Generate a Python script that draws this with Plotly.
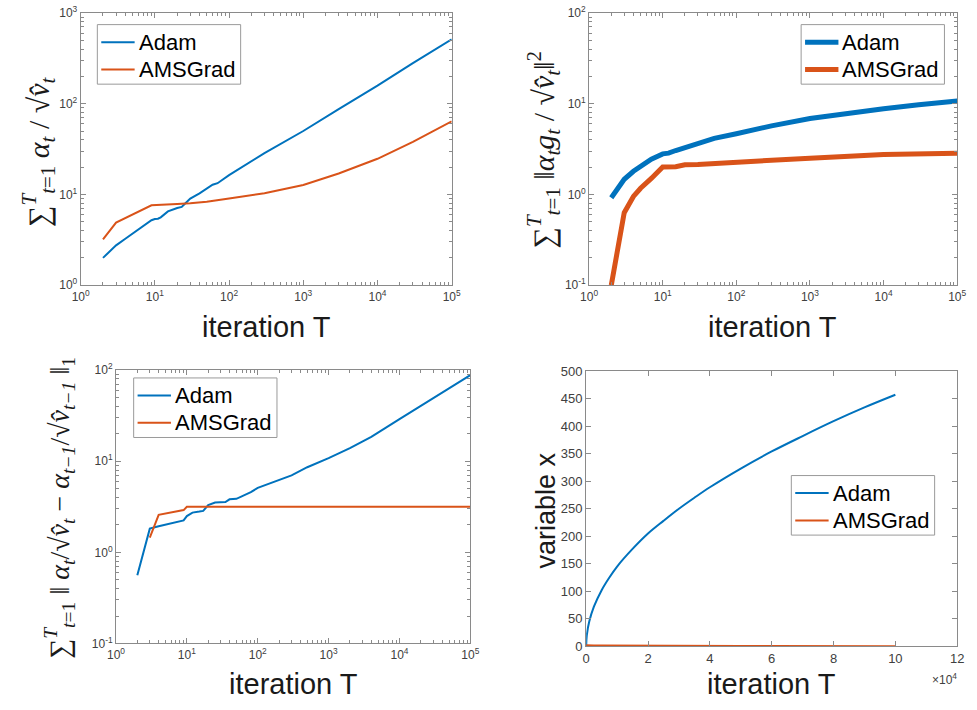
import plotly.graph_objects as go

W, H = 977, 710
BLUE = "#0072BD"
ORANGE = "#D95319"

# ---------------- data ----------------
# Panel 1: sum alpha_t / sqrt(v_t)
p1_T_adam = [2, 3, 4, 5, 7, 9, 10, 11, 12, 15, 20, 23, 25, 30, 40, 50, 60, 70, 100, 300, 1000, 3000, 10000, 30000, 100000]
p1_adam = [2.0, 2.75, 3.25, 3.7, 4.5, 5.2, 5.35, 5.4, 5.6, 6.5, 7.1, 7.3, 7.8, 9.0, 10.3, 11.6, 12.8, 13.3, 16.3, 28.5, 50, 87, 158, 280, 512]
p1_T_ams = [2, 3, 9, 10, 20, 30, 50, 100, 300, 1000, 3000, 10000, 30000, 100000]
p1_ams = [3.2, 4.9, 7.6, 7.65, 7.85, 8.0, 8.3, 9.0, 10.3, 12.7, 17.0, 24.7, 37.9, 64]

# Panel 2: sum ||alpha_t g_t / sqrt(v_t)||^2
p2_T_adam = [2, 3, 4, 5, 7, 10, 12, 15, 20, 30, 50, 100, 300, 1000, 3000, 10000, 30000, 100000]
p2_adam = [0.92, 1.47, 1.8, 2.05, 2.45, 2.8, 2.85, 3.05, 3.3, 3.7, 4.15, 4.66, 5.7, 6.88, 7.85, 8.81, 9.73, 10.7]
p2_T_ams = [2, 3, 4, 5, 7, 10, 15, 20, 30, 100, 1000, 10000, 100000]
p2_ams = [0.1, 0.63, 0.95, 1.17, 1.5, 2.01, 2.02, 2.12, 2.14, 2.27, 2.51, 2.75, 2.84]

# Panel 3: sum || alpha_t/sqrt(v_t) - alpha_{t-1}/sqrt(v_{t-1}) ||_1
p3_T_adam = [2, 3, 4, 9, 10, 12, 15, 17, 20, 25, 35, 40, 50, 60, 80, 100, 200, 300, 500, 1000, 2000, 4000, 10000, 30000, 100000]
p3_adam = [0.56, 1.82, 1.93, 2.24, 2.5, 2.73, 2.8, 2.85, 3.3, 3.52, 3.57, 3.82, 3.87, 4.1, 4.58, 5.1, 6.2, 7.0, 8.6, 10.8, 13.9, 18.5, 29, 49, 88]
p3_T_ams = [3, 4, 9, 10, 100, 1000, 10000, 100000]
p3_ams = [1.45, 2.58, 2.91, 3.16, 3.16, 3.16, 3.16, 3.16]

# Panel 4: variable x
p4_T = [0, 200, 1000, 2500, 5000, 7500, 10000, 15000, 20000, 25000, 30000, 35000, 40000, 50000, 60000, 70000, 80000, 90000, 100000]
p4_adam = [0, 20, 45, 72, 102, 125, 145, 177, 205, 228, 250, 270, 289, 323, 354, 382, 409, 434, 457]
p4_ams = [2.0, 1.9, 1.8, 1.6, 1.5, 1.4, 1.3, 1.1, 1.0, 0.9, 0.8, 0.75, 0.7, 0.6, 0.55, 0.5, 0.45, 0.42, 0.4]

series_names = ["Adam", "AMSGrad"]

# tick labels
log_x_vals = [1, 10, 100, 1000, 10000, 100000]
log_x_text = ["10<sup>0</sup>", "10<sup>1</sup>", "10<sup>2</sup>", "10<sup>3</sup>", "10<sup>4</sup>", "10<sup>5</sup>"]
p1_y_vals = [1, 10, 100, 1000]
p1_y_text = ["10<sup>0</sup>", "10<sup>1</sup>", "10<sup>2</sup>", "10<sup>3</sup>"]
p23_y_vals = [0.1, 1, 10, 100]
p23_y_text = ["10<sup>-1</sup>", "10<sup>0</sup>", "10<sup>1</sup>", "10<sup>2</sup>"]
p4_x_vals = [0, 20000, 40000, 60000, 80000, 100000, 120000]
p4_x_text = ["0", "2", "4", "6", "8", "10", "12"]
p4_y_vals = [0, 50, 100, 150, 200, 250, 300, 350, 400, 450, 500]

# ---------------- helpers ----------------
AX_COL = "#8a8a8a"
TICK_FONT = dict(family="Liberation Sans, Arial, sans-serif", size=12, color="#404040")
TICK_FONT4 = dict(family="Liberation Sans, Arial, sans-serif", size=13, color="#404040")


def minor_vals(lo, hi):
    out = []
    for e in range(lo, hi):
        for m in range(2, 10):
            out.append(m * 10 ** e)
    return out


def px_x(a, b):
    return [a / W, b / W]


def px_y(top, bottom):
    return [1 - bottom / H, 1 - top / H]


def log_axis(domain, rng, vals, text, anchor, mlo, mhi):
    return dict(
        type="log", domain=domain, range=rng, anchor=anchor,
        tickmode="array", tickvals=vals, ticktext=text,
        ticks="inside", ticklen=5, tickcolor=AX_COL, tickwidth=1,
        showline=True, linecolor=AX_COL, linewidth=1, mirror="allticks",
        showgrid=False, zeroline=False, tickfont=TICK_FONT,
        minor=dict(tickmode="array", tickvals=minor_vals(mlo, mhi), ticks="inside",
                   ticklen=3, tickcolor=AX_COL, showgrid=False),
    )


def lin_axis(domain, rng, vals, text, anchor):
    d = dict(
        type="linear", domain=domain, range=rng, anchor=anchor,
        tickmode="array", tickvals=vals,
        ticks="inside", ticklen=5, tickcolor=AX_COL, tickwidth=1,
        showline=True, linecolor=AX_COL, linewidth=1, mirror="allticks",
        showgrid=False, zeroline=False, tickfont=TICK_FONT4,
    )
    if text is not None:
        d["ticktext"] = text
    return d


fig = go.Figure()

panels = [
    ("x", "y", p1_T_adam, p1_adam, p1_T_ams, p1_ams, 2),
    ("x2", "y2", p2_T_adam, p2_adam, p2_T_ams, p2_ams, 5),
    ("x3", "y3", p3_T_adam, p3_adam, p3_T_ams, p3_ams, 2),
]
for xa, ya, ta, va, tm, vm, lw in panels:
    fig.add_trace(go.Scatter(x=ta, y=va, mode="lines", name=series_names[0],
                             line=dict(color=BLUE, width=lw), xaxis=xa, yaxis=ya, showlegend=False))
    fig.add_trace(go.Scatter(x=tm, y=vm, mode="lines", name=series_names[1],
                             line=dict(color=ORANGE, width=lw), xaxis=xa, yaxis=ya, showlegend=False))
fig.add_trace(go.Scatter(x=p4_T, y=p4_adam, mode="lines", name=series_names[0], line_shape="spline",
                         line=dict(color=BLUE, width=2), xaxis="x4", yaxis="y4", showlegend=False))
fig.add_trace(go.Scatter(x=p4_T, y=p4_ams, mode="lines", name=series_names[1],
                         line=dict(color=ORANGE, width=2), xaxis="x4", yaxis="y4", showlegend=False))

D1x, D1y = px_x(73, 451), px_y(4, 283)
D2x, D2y = px_x(591, 966), px_y(4, 283)
D3x, D3y = px_x(109, 470), px_y(370, 650)
D4x, D4y = px_x(588, 966), px_y(371, 653)

fig.update_layout(
    width=W, height=H, margin=dict(l=0, r=0, t=0, b=0),
    paper_bgcolor="white", plot_bgcolor="white", showlegend=False,
    xaxis=log_axis(D1x, [0, 5], log_x_vals, log_x_text, "y", 0, 5),
    yaxis=log_axis(D1y, [0, 3], p1_y_vals, p1_y_text, "x", 0, 3),
    xaxis2=log_axis(D2x, [0, 5], log_x_vals, log_x_text, "y2", 0, 5),
    yaxis2=log_axis(D2y, [-1, 2], p23_y_vals, p23_y_text, "x2", -1, 2),
    xaxis3=log_axis(D3x, [0, 5], log_x_vals, log_x_text, "y3", 0, 5),
    yaxis3=log_axis(D3y, [-1, 2], p23_y_vals, p23_y_text, "x3", -1, 2),
    xaxis4=lin_axis(D4x, [0, 120000], p4_x_vals, p4_x_text, "y4"),
    yaxis4=lin_axis(D4y, [0, 500], p4_y_vals, None, "x4"),
)

LEG_FONT = dict(family="Liberation Sans, Arial, sans-serif", size=22, color="black")


def draw_legend(left, top, lw):
    # box (pixel positions converted to paper coordinates)
    fig.add_shape(type="rect", xref="paper", yref="paper",
                  x0=left / W, x1=(left + 146) / W, y0=1 - (top + 61) / H, y1=1 - top / H,
                  line=dict(color="#9a9a9a", width=1), fillcolor="white", layer="above")
    for i, (name, col) in enumerate(zip(series_names, [BLUE, ORANGE])):
        yc = top + 18 + 28 * i
        fig.add_shape(type="line", xref="paper", yref="paper",
                      x0=(left + 4) / W, x1=(left + 38) / W, y0=1 - yc / H, y1=1 - yc / H,
                      line=dict(color=col, width=lw), layer="above")
        fig.add_annotation(text=name, x=(left + 40) / W, y=1 - yc / H, xref="paper", yref="paper",
                           xanchor="left", yanchor="middle", showarrow=False, font=LEG_FONT)


draw_legend(90, 16, 2)
draw_legend(807, 16, 5)
draw_legend(127, 378, 2)
draw_legend(797, 478, 2)

TITLE_FONT = dict(family="Liberation Sans, Arial, sans-serif", size=29, color="#1a1a1a")
MATH_FONT = dict(family="Liberation Serif, DejaVu Serif, serif", size=30, color="#1a1a1a")


def ann(text, x, y, font, angle=0):
    fig.add_annotation(text=text, x=x / W, y=1 - y / H, xref="paper", yref="paper",
                       xanchor="center", yanchor="middle", showarrow=False,
                       textangle=angle, font=font)


# x titles
ann("iteration T", 262, 326, TITLE_FONT)
ann("iteration T", 778, 326, TITLE_FONT)
ann("iteration T", 290, 692, TITLE_FONT)
ann("iteration T", 777, 692, TITLE_FONT)

# y titles
ann("∑<sup><i>T</i></sup><sub><i>t</i>=1</sub> <i>α<sub>t</sub></i> / √<i>v̂<sub>t</sub></i>",
    30, 146, MATH_FONT, -90)
ann("∑<sup><i>T</i></sup><sub><i>t</i>=1</sub> ‖<i>α<sub>t</sub>g<sub>t</sub></i> / √<i>v̂<sub>t</sub></i>‖<sup>2</sup>",
    545, 144, MATH_FONT, -90)
ann("∑<sup><i>T</i></sup><sub><i>t</i>=1</sub> ‖ <i>α<sub>t</sub></i>/√<i>v̂<sub>t</sub></i> − <i>α<sub>t−1</sub></i>/√<i>v̂<sub>t−1</sub></i> ‖<sub>1</sub>",
    52, 511, dict(MATH_FONT, size=28), -90)
ann("variable x", 547, 514, dict(TITLE_FONT, size=27), -90)

# x10^4 multiplier
ann("×10<sup>4</sup>", 953, 686, dict(TICK_FONT, size=12))

fig.write_html("out.html")
